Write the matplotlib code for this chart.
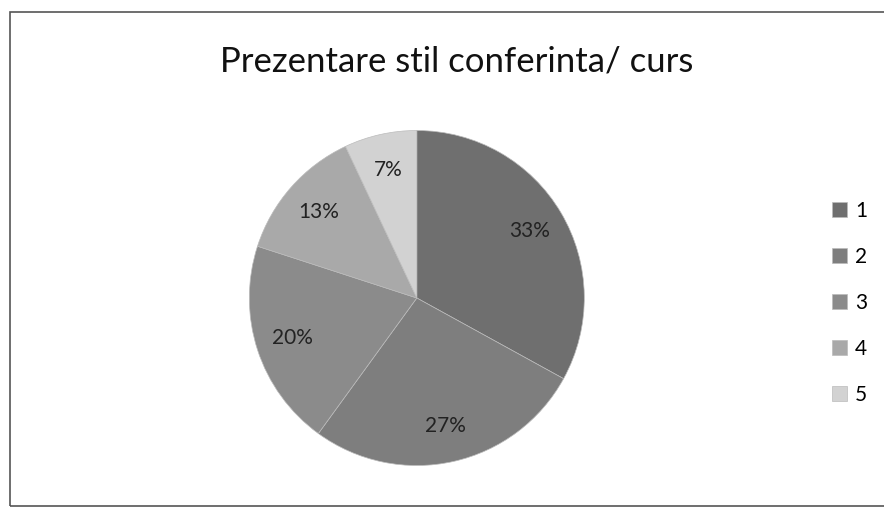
import matplotlib
matplotlib.use('Agg')
import matplotlib.pyplot as plt
import numpy as np
from matplotlib.patches import Rectangle

labels = ['1', '2', '3', '4', '5']
values = [33, 27, 20, 13, 7]
colors = ['#6f6f6f', '#7e7e7e', '#8b8b8b', '#a9a9a9', '#d2d2d2']

plt.rcParams['font.family'] = ['Lato', 'DejaVu Sans']

fig = plt.figure(figsize=(8.84, 5.17), dpi=100)
fig.patch.set_facecolor('white')

# chart frame
fig.patches.append(Rectangle((0.011, 0.022), 0.995, 0.955, transform=fig.transFigure,
                             fill=False, edgecolor='#555555', linewidth=1.2))

fig.text(0.517, 0.882, 'Prezentare stil conferinta/ curs', ha='center', va='center',
         fontsize=25, color='#111111')

ax = fig.add_axes([0.282, 0.0996, 0.379, 0.648])
wedges, texts = ax.pie(values, colors=colors, startangle=90, counterclock=False,
                       wedgeprops=dict(linewidth=0.5, edgecolor='#bbbbbb'))
for w, v in zip(wedges, values):
    ang = np.deg2rad((w.theta1 + w.theta2) / 2)
    r = 0.78
    ax.text(r * np.cos(ang), r * np.sin(ang), f'{v}%', ha='center', va='center',
            fontsize=15, color='#222222')
ax.set_xlim(-1, 1)
ax.set_ylim(-1, 1)
ax.set_aspect('equal')

leg = fig.legend(wedges, labels, loc='center left', bbox_to_anchor=(0.92, 0.414),
                 frameon=False, fontsize=15, handlelength=0.7, handleheight=0.7,
                 handletextpad=0.4, labelspacing=1.25)

fig.savefig('out.png', dpi=100)
